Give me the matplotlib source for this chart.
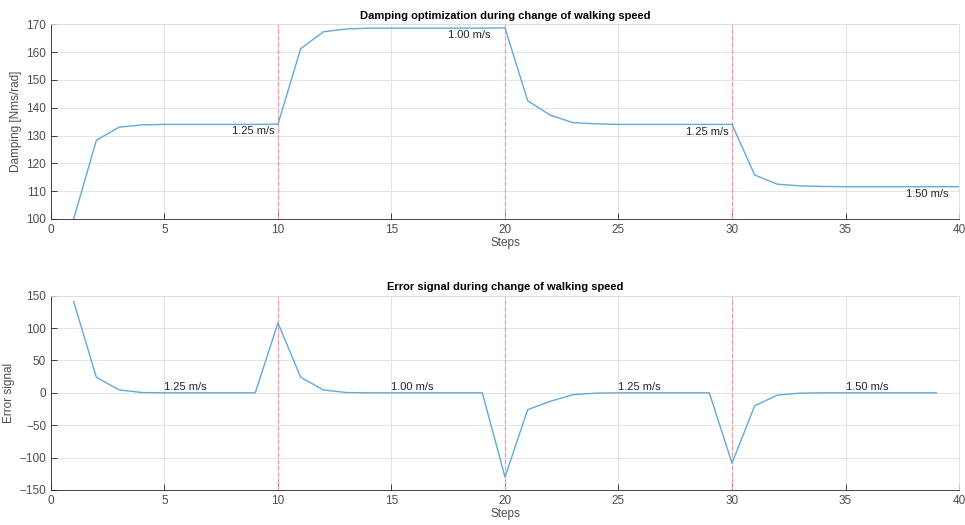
import numpy as np
import matplotlib.pyplot as plt

plt.rcParams['font.family'] = ['Liberation Sans', 'DejaVu Sans']
plt.rcParams['font.size'] = 8.5

steps_damping = np.arange(1, 41)
damping = [100.0, 128.3, 133.0, 133.8, 134.0, 134.0, 134.0, 134.0, 134.0, 134.1,
           161.2, 167.3, 168.3, 168.6, 168.6, 168.6, 168.6, 168.6, 168.6, 168.7,
           142.5, 137.3, 134.6, 134.2, 134.0, 134.0, 134.0, 134.0, 134.0, 134.0,
           115.8, 112.5, 111.9, 111.7, 111.6, 111.6, 111.6, 111.6, 111.6, 111.6]

steps_error = np.arange(1, 40)
error = [141.0, 24.0, 4.5, 0.5, 0.0, 0.0, 0.0, 0.0, 0.0,
         108.0, 24.0, 4.5, 0.5, 0.0, 0.0, 0.0, 0.0, 0.0, 0.0,
         -130.0, -26.0, -13.0, -2.8, -0.5, 0.0, 0.0, 0.0, 0.0, 0.0,
         -108.5, -20.0, -3.5, -0.5, 0.0, 0.0, 0.0, 0.0, 0.0, 0.0]

speed_changes = [10, 20, 30]
speed_labels = ['1.25 m/s', '1.00 m/s', '1.25 m/s', '1.50 m/s']

line_color = '#62a8df'
change_color = '#f39a9a'
axis_color = '#4d4d4d'


def style_axes(ax):
    ax.set_facecolor('white')
    for side, s in ax.spines.items():
        s.set_linewidth(0.6)
        s.set_color('#262626' if side in ('left', 'bottom') else '#dcdcdc')
    ax.grid(True, color='#e3e3e3', linewidth=0.7)
    ax.set_axisbelow(True)
    ax.tick_params(direction='in', length=4, width=0.6, colors='#262626',
                   labelcolor=axis_color, labelsize=8.5)
    ax.set_xlim(0, 40)
    ax.set_xticks(np.arange(0, 41, 5))
    ax.set_xlabel('Steps', color=axis_color, labelpad=1)


fig = plt.figure(figsize=(9.65, 5.25), dpi=100)
ax1 = fig.add_axes([0.0528, 0.5829, 0.941, 0.3709])
ax2 = fig.add_axes([0.0528, 0.0667, 0.941, 0.3701])

# damping values
style_axes(ax1)
for x in speed_changes:
    ax1.axvline(x, color=change_color, linestyle='--', linewidth=0.9)
ax1.plot(steps_damping, damping, color=line_color, linewidth=1.0)
ax1.set_ylim(100, 170)
ax1.set_yticks(np.arange(100, 171, 10))
ax1.set_ylabel('Damping [Nms/rad]', color=axis_color, labelpad=3)
ax1.set_title('Damping optimization during change of walking speed',
              fontweight='bold', fontsize=8, pad=4)
label_pos = [(10, damping[9]), (19.5, damping[19]), (30, damping[29]), (39.7, damping[39])]
for (x, y), txt in zip(label_pos, speed_labels):
    ax1.text(x - 0.15, y - 0.8, txt, ha='right', va='top', color='#262626', fontsize=8)

# error signal
style_axes(ax2)
for x in speed_changes:
    ax2.axvline(x, color=change_color, linestyle='--', linewidth=0.9)
ax2.plot(steps_error, error, color=line_color, linewidth=1.0)
ax2.set_ylim(-150, 150)
ax2.set_yticks(np.arange(-150, 151, 50))
ax2.set_ylabel('Error signal', color=axis_color, labelpad=3)
ax2.set_title('Error signal during change of walking speed',
              fontweight='bold', fontsize=8, pad=4)
for x, txt in zip([5, 15, 25, 35], speed_labels):
    ax2.text(x, 1.5, txt, ha='left', va='bottom', color='#262626', fontsize=8)

fig.savefig('out.png', dpi=100)
